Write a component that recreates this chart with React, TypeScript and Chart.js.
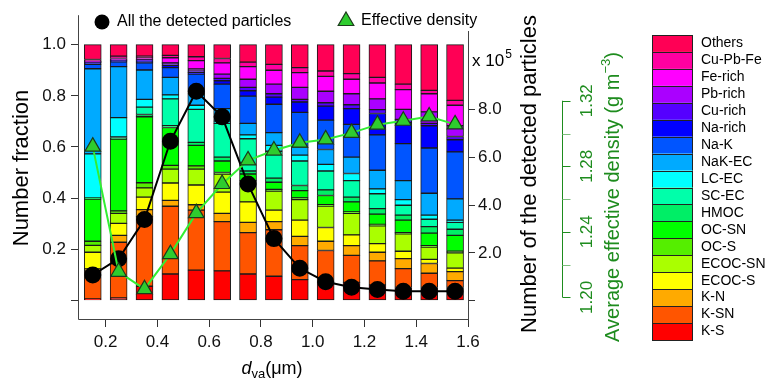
import { useEffect, useRef } from 'react';
import { Chart, registerables } from 'chart.js';

Chart.register(...registerables);

const FONT = '"Liberation Sans", Arial, Helvetica, sans-serif';

// ---- categories / ticks ----
const sizeBins = [0.15, 0.25, 0.35, 0.45, 0.55, 0.65, 0.75, 0.85, 0.95, 1.05, 1.15, 1.25, 1.35, 1.45, 1.55];
const sizeTicks = [0.2, 0.4, 0.6, 0.8, 1.0, 1.2, 1.4, 1.6];
const fractionTicks = [0, 0.2, 0.4, 0.6, 0.8, 1.0];
const countTicks = [0, 2, 4, 6, 8];
const densityTicks = [1.2, 1.22, 1.24, 1.26, 1.28, 1.3, 1.32];
const densityLabelTicks = [1.2, 1.24, 1.28, 1.32];

// ---- particle classes (bottom to top of each stack) ----
const classNames = ['K-S', 'K-SN', 'K-N', 'ECOC-S', 'ECOC-SN', 'OC-S', 'OC-SN', 'HMOC', 'SC-EC', 'LC-EC', 'NaK-EC', 'Na-K', 'Na-rich', 'Cu-rich', 'Pb-rich', 'Fe-rich', 'Cu-Pb-Fe', 'Others'];
const classColors = ['#FF0000', '#FF5500', '#FFAA00', '#FFFF00', '#AAFF00', '#55EE00', '#00FF00', '#00EE66', '#00FFAA', '#00FFFF', '#00AAFF', '#0055FF', '#0000FF', '#5500FF', '#AA00FF', '#FF00FF', '#FF00A0', '#FF0055'];

// number fraction of each class in each size bin
const fracKS = [0.005, 0.009, 0.055, 0.103, 0.118, 0.115, 0.103, 0.094, 0.081, 0.070, 0.070, 0.060, 0.050, 0.050, 0.050];
const fracKSN = [0.110, 0.218, 0.272, 0.265, 0.235, 0.193, 0.162, 0.182, 0.133, 0.125, 0.106, 0.094, 0.074, 0.056, 0.027];
const fracKN = [0.008, 0.027, 0.028, 0.023, 0.021, 0.032, 0.040, 0.032, 0.036, 0.036, 0.038, 0.034, 0.039, 0.038, 0.035];
const fracECOCS = [0.065, 0.047, 0.049, 0.068, 0.077, 0.083, 0.080, 0.045, 0.064, 0.054, 0.042, 0.034, 0.029, 0.016, 0.014];
const fracECOCSN = [0.027, 0.039, 0.036, 0.054, 0.062, 0.071, 0.070, 0.074, 0.080, 0.084, 0.084, 0.069, 0.068, 0.048, 0.060];
const fracOCS = [0.016, 0.010, 0.020, 0.015, 0.013, 0.006, 0.013, 0.007, 0.007, 0.005, 0.006, 0.006, 0.005, 0.006, 0.006];
const fracOCSN = [0.165, 0.281, 0.258, 0.148, 0.080, 0.045, 0.026, 0.028, 0.028, 0.036, 0.039, 0.040, 0.049, 0.049, 0.062];
const fracHMOC = [0.004, 0.006, 0.009, 0.007, 0.012, 0.015, 0.012, 0.016, 0.020, 0.022, 0.019, 0.022, 0.019, 0.025, 0.024];
const fracSCEC = [0.002, 0.002, 0.029, 0.105, 0.129, 0.132, 0.126, 0.105, 0.096, 0.074, 0.064, 0.058, 0.039, 0.029, 0.027];
const fracLCEC = [0.171, 0.076, 0.030, 0.016, 0.016, 0.009, 0.015, 0.023, 0.023, 0.026, 0.028, 0.019, 0.022, 0.016, 0.009];
const fracNaKEC = [0.333, 0.199, 0.115, 0.068, 0.045, 0.049, 0.045, 0.050, 0.031, 0.058, 0.064, 0.073, 0.074, 0.086, 0.083];
const fracNaK = [0.017, 0.019, 0.028, 0.038, 0.077, 0.096, 0.107, 0.111, 0.136, 0.115, 0.128, 0.138, 0.145, 0.177, 0.184];
const fracNaRich = [0.007, 0.005, 0.007, 0.009, 0.006, 0.013, 0.021, 0.028, 0.041, 0.055, 0.062, 0.084, 0.082, 0.087, 0.047];
const fracCuRich = [0.002, 0.002, 0.004, 0.007, 0.006, 0.009, 0.013, 0.013, 0.010, 0.013, 0.015, 0.015, 0.013, 0.009, 0.013];
const fracPbRich = [0.002, 0.001, 0.001, 0.004, 0.008, 0.017, 0.032, 0.038, 0.047, 0.045, 0.043, 0.042, 0.039, 0.045, 0.042];
const fracFeRich = [0.002, 0.005, 0.008, 0.019, 0.033, 0.044, 0.049, 0.054, 0.058, 0.058, 0.057, 0.062, 0.077, 0.071, 0.080];
const fracCuPbFe = [0.006, 0.009, 0.006, 0.009, 0.015, 0.017, 0.018, 0.023, 0.019, 0.021, 0.022, 0.022, 0.022, 0.013, 0.019];
const fracOthers = [0.058, 0.045, 0.045, 0.042, 0.047, 0.054, 0.068, 0.077, 0.090, 0.103, 0.113, 0.128, 0.154, 0.179, 0.218];

const classFractions = [fracKS, fracKSN, fracKN, fracECOCS, fracECOCSN, fracOCS, fracOCSN, fracHMOC, fracSCEC, fracLCEC, fracNaKEC, fracNaK, fracNaRich, fracCuRich, fracPbRich, fracFeRich, fracCuPbFe, fracOthers];

// number of detected particles (x 10^5)
const particleCount = [1.08, 1.76, 3.40, 6.67, 8.76, 7.69, 4.88, 2.60, 1.36, 0.80, 0.57, 0.47, 0.40, 0.40, 0.40];
// average effective density (g m^-3)
const effectiveDensity = [1.292, 1.2156, 1.205, 1.2264, 1.2514, 1.2692, 1.2836, 1.2896, 1.2944, 1.2964, 1.3004, 1.3054, 1.3078, 1.3104, 1.3056];

const DENSITY_GREEN = '#1E8C1E';
const LINE_GREEN = '#33EE33';
const TRI_FILL = '#2ECC2E';

function drawRotated(ctx: CanvasRenderingContext2D, text: string, x: number, y: number, font: string, color: string) {
  ctx.save();
  ctx.translate(x, y);
  ctx.rotate(-Math.PI / 2);
  ctx.font = font;
  ctx.fillStyle = color;
  ctx.textAlign = 'center';
  ctx.textBaseline = 'middle';
  ctx.fillText(text, 0, 0);
  ctx.restore();
}

function drawTriangle(ctx: CanvasRenderingContext2D, x: number, y: number, r: number) {
  ctx.beginPath();
  for (let i = 0; i < 3; i++) {
    const a = (i * 2 * Math.PI) / 3;
    const px = x + Math.sin(a) * r;
    const py = y - Math.cos(a) * r;
    if (i === 0) ctx.moveTo(px, py);
    else ctx.lineTo(px, py);
  }
  ctx.closePath();
  ctx.fillStyle = TRI_FILL;
  ctx.fill();
  ctx.lineWidth = 1.2;
  ctx.strokeStyle = '#1b3b1b';
  ctx.stroke();
}

const decorPlugin = {
  id: 'decor',
  afterDraw(chart: any) {
    const ctx: CanvasRenderingContext2D = chart.ctx;
    const area = chart.chartArea;
    ctx.save();

    // frame (left, bottom, right)
    ctx.strokeStyle = '#444';
    ctx.lineWidth = 1;
    ctx.beginPath();
    ctx.moveTo(Math.round(area.left) + 0.5, area.top);
    ctx.lineTo(Math.round(area.left) + 0.5, Math.round(area.bottom) + 0.5);
    ctx.lineTo(Math.round(area.right) + 0.5, Math.round(area.bottom) + 0.5);
    ctx.lineTo(Math.round(area.right) + 0.5, area.top);
    ctx.stroke();

    // inner legend (opaque background)
    ctx.font = `16px ${FONT}`;
    ctx.textAlign = 'left';
    ctx.textBaseline = 'middle';
    const wLeg = ctx.measureText('Effective density').width;
    ctx.fillStyle = '#fff';
    ctx.fillRect(336, 11, 361 + wLeg - 336 + 2, 20);
    ctx.fillStyle = '#000';
    ctx.beginPath();
    ctx.arc(102, 22, 7.5, 0, Math.PI * 2);
    ctx.fill();
    ctx.fillText('All the detected particles', 117, 22);
    drawTriangle(ctx, 346, 21, 9);
    ctx.fillStyle = '#000';
    ctx.fillText('Effective density', 361, 21);

    // x 10^5 multiplier
    ctx.textBaseline = 'alphabetic';
    ctx.font = `17px ${FONT}`;
    ctx.fillText('x 10', 472, 66);
    const w10 = ctx.measureText('x 10').width;
    ctx.font = `12px ${FONT}`;
    ctx.fillText('5', 472 + w10 + 1, 58);

    // axis titles
    drawRotated(ctx, 'Number fraction', 22, 168, `22px ${FONT}`, '#000');
    drawRotated(ctx, 'Number of the detected particles', 530, 174, `22px ${FONT}`, '#000');

    // x title: d_va(μm)
    ctx.fillStyle = '#000';
    ctx.textAlign = 'left';
    ctx.textBaseline = 'alphabetic';
    const f1 = `italic 18px ${FONT}`;
    const f2 = `13px ${FONT}`;
    const f3 = `18px ${FONT}`;
    ctx.font = f1; const wd = ctx.measureText('d').width;
    ctx.font = f2; const wva = ctx.measureText('va').width;
    ctx.font = f3; const wum = ctx.measureText('(μm)').width;
    let xs = 272 - (wd + wva + wum) / 2;
    ctx.font = f1; ctx.fillText('d', xs, 374); xs += wd;
    ctx.font = f2; ctx.fillText('va', xs, 378); xs += wva;
    ctx.font = f3; ctx.fillText('(μm)', xs, 374);

    // density axis drawn through its scale
    const den = chart.scales.yDen;
    const ax = 562.5;
    const yTop = den.getPixelForValue(densityTicks[densityTicks.length - 1]);
    const yBot = den.getPixelForValue(densityTicks[0]);
    ctx.strokeStyle = DENSITY_GREEN;
    ctx.lineWidth = 1;
    ctx.beginPath();
    ctx.moveTo(ax, yTop);
    ctx.lineTo(ax, yBot);
    ctx.stroke();
    densityTicks.forEach((v) => {
      const py = Math.round(den.getPixelForValue(v)) + 0.5;
      const major = densityLabelTicks.some((m) => Math.abs(m - v) < 1e-6);
      ctx.strokeStyle = major ? DENSITY_GREEN : '#7FBF7F';
      ctx.beginPath();
      ctx.moveTo(ax, py);
      ctx.lineTo(ax + 8, py);
      ctx.stroke();
    });
    densityLabelTicks.forEach((v) => {
      drawRotated(ctx, v.toFixed(2), 587, den.getPixelForValue(v), `17px ${FONT}`, DENSITY_GREEN);
    });
    // density title with superscript
    ctx.save();
    ctx.translate(613, 197);
    ctx.rotate(-Math.PI / 2);
    ctx.fillStyle = DENSITY_GREEN;
    ctx.textAlign = 'left';
    ctx.textBaseline = 'middle';
    const tMain = 'Average effective density (g m';
    const tSup = '\u22123';
    const tEnd = ')';
    const fm = `20px ${FONT}`;
    const fs = `13px ${FONT}`;
    ctx.font = fm; const wm = ctx.measureText(tMain).width; const we = ctx.measureText(tEnd).width;
    ctx.font = fs; const wsup = ctx.measureText(tSup).width;
    let tx = -(wm + wsup + we) / 2;
    ctx.font = fm; ctx.fillText(tMain, tx, 0); tx += wm;
    ctx.font = fs; ctx.fillText(tSup, tx, -7); tx += wsup;
    ctx.font = fm; ctx.fillText(tEnd, tx, 0);
    ctx.restore();

    // class legend (top = Others)
    const rowTop = 35;
    const rowH = (340 - 35) / classNames.length;
    ctx.font = `14px ${FONT}`;
    ctx.textAlign = 'left';
    ctx.textBaseline = 'middle';
    for (let r = 0; r < classNames.length; r++) {
      const k = classNames.length - 1 - r;
      const y0 = rowTop + r * rowH;
      ctx.fillStyle = classColors[k];
      ctx.fillRect(652, y0, 41, rowH);
      ctx.strokeStyle = '#222';
      ctx.lineWidth = 1;
      ctx.strokeRect(652.5, Math.round(y0) + 0.5, 40, Math.round(rowH));
      ctx.fillStyle = '#000';
      ctx.fillText(classNames[k], 701, y0 + rowH / 2);
    }

    ctx.restore();
  },
};

export default function App() {
  const canvasRef = useRef<HTMLCanvasElement | null>(null);

  useEffect(() => {
    if (!canvasRef.current) return;

    const barSets = classNames.map((name, k) => ({
      type: 'bar' as const,
      label: name,
      data: sizeBins.map((x, i) => ({ x, y: classFractions[k][i] })),
      backgroundColor: classColors[k],
      borderColor: '#1a1a1a',
      borderWidth: 1,
      borderSkipped: false,
      barThickness: 17,
      yAxisID: 'y',
      xAxisID: 'x',
      stack: 'frac',
      order: 2,
    }));

    const chart = new Chart(canvasRef.current, {
      type: 'bar',
      data: {
        datasets: [
          {
            type: 'line',
            label: 'Effective density',
            data: sizeBins.map((x, i) => ({ x, y: effectiveDensity[i] })),
            yAxisID: 'yDen',
            xAxisID: 'x',
            borderColor: LINE_GREEN,
            borderWidth: 2,
            pointStyle: 'triangle',
            pointRadius: 9,
            pointBackgroundColor: TRI_FILL,
            pointBorderColor: '#1b3b1b',
            pointBorderWidth: 1.2,
            stack: 'den',
            order: 0,
          },
          {
            type: 'line',
            label: 'All the detected particles',
            data: sizeBins.map((x, i) => ({ x, y: particleCount[i] })),
            yAxisID: 'yNum',
            xAxisID: 'x',
            borderColor: '#000',
            borderWidth: 2,
            pointStyle: 'circle',
            pointRadius: 7.5,
            pointBackgroundColor: '#000',
            pointBorderColor: '#000',
            stack: 'num',
            order: 1,
          },
          ...barSets,
        ] as any,
      },
      options: {
        responsive: false,
        animation: false,
        devicePixelRatio: 1,
        layout: { padding: { top: 10, left: 0, right: 0, bottom: 0 } },
        plugins: { legend: { display: false }, tooltip: { enabled: false }, title: { display: false } },
        scales: {
          x: {
            type: 'linear',
            position: 'bottom',
            min: 0.093,
            max: 1.6,
            offset: false,
            stacked: true,
            afterBuildTicks: (s: any) => { s.ticks = sizeTicks.map((v) => ({ value: v })); },
            afterFit: (s: any) => { s.height = 59; },
            ticks: {
              font: { family: FONT, size: 17 },
              color: '#111',
              padding: 5,
              autoSkip: false,
              maxRotation: 0,
              callback: (v: any) => Number(v).toFixed(1),
            },
            grid: { offset: false, drawOnChartArea: false, drawTicks: true, tickLength: 8, color: '#333' },
            border: { display: false },
          },
          y: {
            type: 'linear',
            position: 'left',
            stacked: true,
            min: -0.0731,
            max: 1.1154,
            afterBuildTicks: (s: any) => { s.ticks = fractionTicks.map((v) => ({ value: v })); },
            afterFit: (s: any) => { s.width = 78; },
            ticks: {
              font: { family: FONT, size: 17 },
              color: '#111',
              padding: 5,
              callback: (v: any) => (Number(v) === 0 ? '' : Number(v).toFixed(1)),
            },
            grid: { drawOnChartArea: false, drawTicks: true, tickLength: 7, color: '#333' },
            border: { display: false },
          },
          yNum: {
            type: 'linear',
            position: 'right',
            min: -0.76,
            max: 11.94,
            afterBuildTicks: (s: any) => { s.ticks = countTicks.map((v) => ({ value: v })); },
            afterFit: (s: any) => { s.width = 300; },
            ticks: {
              font: { family: FONT, size: 17 },
              color: '#111',
              padding: 3,
              callback: (v: any) => (Number(v) === 0 ? '' : Number(v).toFixed(1)),
            },
            grid: { drawOnChartArea: false, drawTicks: true, tickLength: 7, color: '#333' },
            border: { display: false },
          },
          yDen: {
            type: 'linear',
            display: false,
            min: 1.1868,
            max: 1.3722,
          },
        },
      } as any,
      plugins: [decorPlugin],
    });

    return () => chart.destroy();
  }, []);

  return (
    <div style={{ position: 'absolute', left: 0, top: 0, width: 768, height: 378, background: '#fff' }}>
      <canvas ref={canvasRef} width={768} height={378} style={{ display: 'block' }} />
    </div>
  );
}
